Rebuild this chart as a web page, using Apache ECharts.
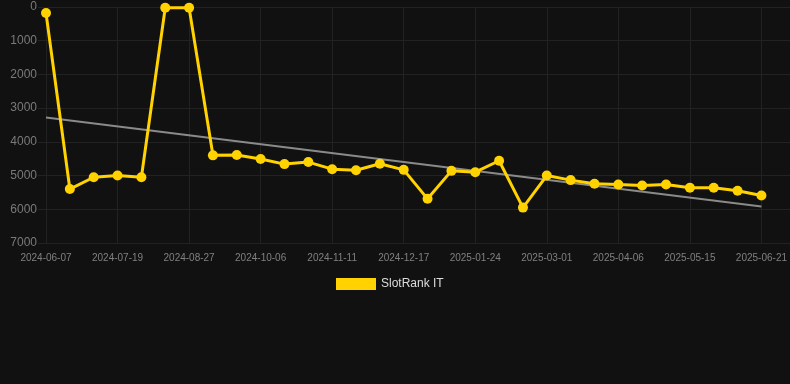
<!DOCTYPE html>
<html>
<head>
<meta charset="utf-8">
<script src="https://cdn.jsdelivr.net/npm/echarts@6/dist/echarts.min.js"></script>
<style>
    html, body { margin: 0; padding: 0; background: #111111; }
    #chart { width: 790px; height: 384px; }
</style>
</head>
<body>
<div id="chart"></div>
<script>
var categories = [
    "2024-06-07", "2024-06-21", "2024-07-05", "2024-07-19", "2024-08-01", "2024-08-14",
    "2024-08-27", "2024-09-09", "2024-09-22", "2024-10-06", "2024-10-18", "2024-10-30",
    "2024-11-11", "2024-11-23", "2024-12-05", "2024-12-17", "2024-12-30", "2025-01-11",
    "2025-01-24", "2025-02-05", "2025-02-17", "2025-03-01", "2025-03-13", "2025-03-25",
    "2025-04-06", "2025-04-19", "2025-05-02", "2025-05-15", "2025-05-27", "2025-06-08",
    "2025-06-21"
];
var rankValues = [
    180, 5400, 5050, 5000, 5050, 20, 20, 4400, 4390, 4510, 4660, 4600, 4810, 4840, 4650,
    4830, 5690, 4860, 4900, 4560, 5950, 5000, 5135, 5245, 5265, 5295, 5265, 5360, 5360,
    5450, 5590
];
// trend line end points: [category index, value]
var trendPoints = [[0, 3275], [30, 5915]];
var yTicks = { min: 0, max: 7000, interval: 1000 };

var gridColor = "#222222";
var chart = echarts.init(document.getElementById("chart"));
var option = {
    backgroundColor: "#111111",
    animation: false,
    grid: [
        { left: 46, right: 28, top: 7, bottom: 141 },
        // wider grid that only carries the horizontal lines
        { left: 38, right: 0, top: 7, bottom: 141 }
    ],
    legend: {
        data: ["SlotRank IT"],
        top: 273,
        left: 331,
        icon: "rect",
        itemWidth: 40,
        itemHeight: 12,
        itemGap: 10,
        textStyle: { color: "#dddddd", fontSize: 12, fontFamily: "Liberation Sans, Arial, sans-serif" }
    },
    xAxis: [
        {
            type: "category",
            gridIndex: 0,
            data: categories,
            boundaryGap: false,
            axisLine: { show: false },
            axisTick: { show: true, interval: 2, length: 4, lineStyle: { color: gridColor } },
            splitLine: { show: true, interval: 2, lineStyle: { color: gridColor } },
            axisLabel: {
                interval: 2,
                color: "#808080",
                fontSize: 10,
                margin: 10,
                fontFamily: "Liberation Sans, Arial, sans-serif"
            }
        },
        {
            type: "value",
            gridIndex: 1,
            min: 0,
            max: 1,
            show: false
        }
    ],
    yAxis: [
        {
            type: "value",
            gridIndex: 0,
            inverse: true,
            min: yTicks.min,
            max: yTicks.max,
            interval: yTicks.interval,
            axisLine: { show: false },
            axisTick: { show: false },
            splitLine: { show: false },
            axisLabel: {
                color: "#7a7a7a",
                fontSize: 12,
                margin: 9,
                fontFamily: "Liberation Sans, Arial, sans-serif",
                formatter: function (v) { return String(v); }
            }
        },
        {
            type: "value",
            gridIndex: 1,
            inverse: true,
            min: yTicks.min,
            max: yTicks.max,
            interval: yTicks.interval,
            axisLine: { show: false },
            axisTick: { show: false },
            axisLabel: { show: false },
            splitLine: { show: true, lineStyle: { color: gridColor } }
        }
    ],
    series: [
        {
            name: "Trend",
            type: "line",
            xAxisIndex: 0,
            yAxisIndex: 0,
            data: trendPoints,
            symbol: "none",
            lineStyle: { color: "#8a8a8a", width: 2 },
            z: 1
        },
        {
            name: "SlotRank IT",
            type: "line",
            xAxisIndex: 0,
            yAxisIndex: 0,
            data: rankValues,
            symbol: "circle",
            symbolSize: 10,
            itemStyle: { color: "#FFD200" },
            lineStyle: { color: "#FFD200", width: 3 },
            z: 3
        }
    ]
};
chart.setOption(option);
</script>
</body>
</html>
